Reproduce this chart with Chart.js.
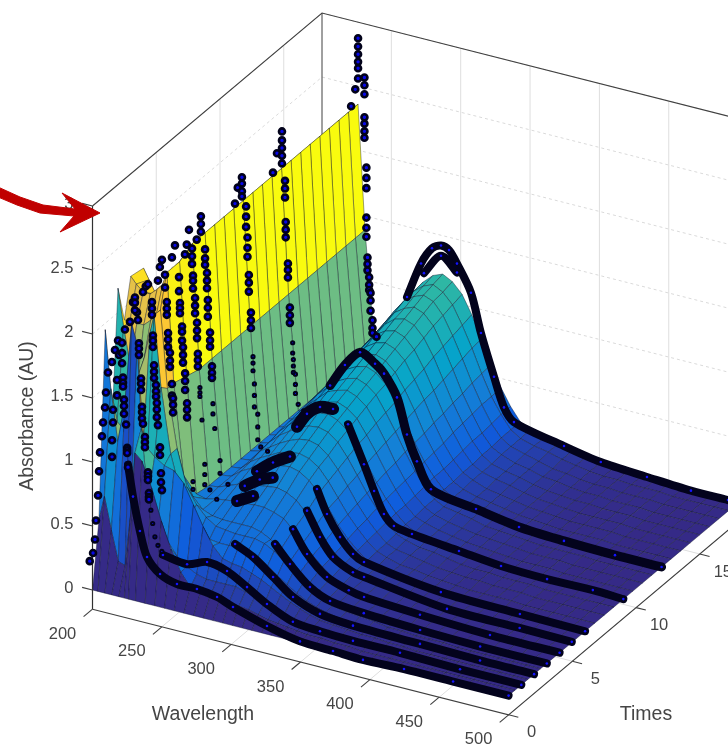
<!DOCTYPE html>
<html>
<head>
<meta charset="utf-8">
<title>Absorbance surface</title>
<script src="https://cdn.jsdelivr.net/npm/chart.js@4"></script>
<style>
  html, body { margin: 0; padding: 0; background: #fff; }
  #wrap { width: 728px; height: 748px; overflow: hidden; }
  canvas { display: block; filter: blur(0.45px); }
</style>
</head>
<body>
<div id="wrap"><canvas id="chart" width="728" height="748"></canvas></div>
<script>
// ===== AXIS TICKS =====
const wavelengthTicks = [200, 250, 300, 350, 400, 450, 500];
const timeTicks = [0, 5, 10, 15];
const absorbanceTicks = [0, 0.5, 1, 1.5, 2, 2.5, 3];
const absorbanceLabels = ["0", "0.5", "1", "1.5", "2", "2.5", "3"];

// ===== SURFACE GRID =====
const surfaceWavelengths = [200,204,209,214,219,223,226,231,238,245,252,259,266,273,280,287,294,301,308,315,322,329,336,343,350,360,370,380,390,400,410,420,430,440,450,460,470,480,490,500];
const surfaceTimes = [0,0.5,1,1.5,2,2.5,3,4,5,6,6.75,7.5,8.25,9,9.75,10.5,11.25,12,12.75,13.5,14.25,15,15.75,16.5,17.25,18];
const surfaceAbs = [
  [0,0,0,0,0,0,0,0,0,0,0,0,0,0,0,0,0,0,0,0,0,0,0,0,0,0,0,0,0,0,0,0,0,0,0,0,0,0,0,0],
  [.5,.7,.45,.22,.2,.62,1.1,1.05,.86,.62,.42,.26,.16,.13,.12,.12,.12,.11,.1,.08,.06,.05,.04,.03,.02,.02,.01,.01,0,0,0,0,0,0,0,0,0,0,0,0],
  [1.95,1.5,1.1,1.4,2.05,1.9,1.25,.7,.55,.42,.32,.26,.22,.2,.2,.2,.2,.18,.16,.13,.1,.08,.06,.05,.04,.03,.02,.02,.01,.01,0,0,0,0,0,0,0,0,0,0],
  [1.1,1.2,1.15,1.3,1.6,1.1,1.05,1,.95,.93,.85,.7,.55,.42,.34,.32,.31,.28,.25,.21,.17,.13,.1,.07,.05,.04,.03,.02,.02,.01,.01,0,0,0,0,0,0,0,0,0],
  [2.19,1.9,1.6,1.5,1.7,1.9,2.05,1.5,1,.72,.55,.45,.41,.4,.4,.41,.4,.37,.32,.26,.21,.16,.12,.09,.07,.05,.04,.03,.02,.01,.01,.01,0,0,0,0,0,0,0,0],
  [1.9,1.9,1.9,1.9,1.95,2,2.05,1.45,1,.72,.6,.52,.47,.46,.45,.45,.45,.43,.39,.33,.27,.2,.15,.11,.08,.06,.05,.04,.02,.02,.01,.01,.01,0,0,0,0,0,0,0],
  [2.2,2.15,2.1,2.1,2.15,2.2,2.3,1.45,.75,.6,.52,.49,.48,.48,.48,.48,.46,.42,.36,.29,.22,.16,.12,.08,.06,.05,.04,.03,.02,.01,.01,.01,0,0,0,0,0,0,0,0],
  [2.18,2.1,2,2.05,2.15,2.25,2.3,1.42,.52,.5,.52,.53,.54,.54,.55,.55,.53,.5,.43,.35,.27,.2,.14,.09,.07,.06,.04,.03,.02,.02,.01,.01,.01,0,0,0,0,0,0,0],
  [1.3,1.5,1.7,1.9,2.1,2.3,2.36,1.39,.5,.51,.54,.57,.59,.6,.61,.62,.6,.56,.48,.4,.3,.22,.16,.11,.08,.06,.05,.03,.02,.02,.01,.01,.01,0,0,0,0,0,0,0],
  [1.2,1.4,1.6,1.9,2.1,2.3,2.36,1.39,.5,.51,.57,.61,.64,.67,.69,.7,.68,.63,.55,.45,.34,.25,.18,.12,.09,.07,.06,.04,.03,.02,.01,.01,.01,0,0,0,0,0,0,0],
  [1.2,1.4,1.6,1.9,2.1,2.3,2.36,1.39,.5,.51,.58,.63,.67,.71,.73,.74,.72,.67,.58,.47,.36,.27,.19,.13,.1,.07,.06,.04,.03,.02,.01,.01,.01,.01,0,0,0,0,0,0],
  [1.2,1.4,1.6,1.9,2.1,2.3,2.36,1.39,.5,.51,.6,.65,.7,.74,.77,.78,.76,.7,.61,.5,.38,.28,.2,.13,.1,.08,.06,.04,.03,.02,.02,.01,.01,.01,0,0,0,0,0,0],
  [1.2,1.4,1.6,1.9,2.1,2.3,2.36,1.39,.5,.52,.61,.68,.73,.78,.81,.82,.8,.74,.64,.52,.4,.3,.21,.14,.11,.08,.07,.05,.03,.02,.02,.01,.01,.01,0,0,0,0,0,0],
  [1.2,1.4,1.6,1.9,2.1,2.3,2.36,1.39,.5,.52,.63,.7,.76,.81,.85,.86,.83,.77,.67,.55,.42,.31,.22,.15,.11,.09,.07,.05,.03,.02,.02,.01,.01,.01,0,0,0,0,0,0],
  [1.2,1.4,1.6,1.9,2.1,2.3,2.36,1.39,.5,.52,.64,.71,.78,.84,.87,.89,.86,.8,.69,.57,.44,.32,.22,.15,.12,.09,.07,.05,.04,.03,.02,.01,.01,.01,0,0,0,0,0,0],
  [1.2,1.4,1.6,1.9,2.1,2.3,2.36,1.39,.5,.52,.65,.73,.8,.87,.9,.92,.89,.83,.72,.59,.45,.33,.23,.16,.12,.09,.07,.05,.04,.03,.02,.01,.01,.01,0,0,0,0,0,0],
  [1.2,1.4,1.6,1.9,2.1,2.3,2.36,1.39,.5,.52,.66,.75,.82,.89,.93,.95,.92,.86,.74,.61,.47,.34,.24,.16,.12,.1,.08,.05,.04,.03,.02,.01,.01,.01,.01,0,0,0,0,0],
  [1.2,1.4,1.6,1.9,2.1,2.3,2.36,1.39,.5,.52,.67,.76,.85,.92,.96,.98,.95,.88,.76,.63,.48,.35,.25,.17,.13,.1,.08,.05,.04,.03,.02,.01,.01,.01,.01,0,0,0,0,0],
  [1.2,1.4,1.6,1.9,2.1,2.3,2.36,1.39,.5,.53,.68,.78,.87,.95,.99,1.01,.98,.91,.79,.65,.49,.36,.25,.17,.13,.1,.08,.06,.04,.03,.02,.01,.01,.01,.01,0,0,0,0,0],
  [1.2,1.4,1.6,1.9,2.1,2.3,2.36,1.39,.5,.53,.69,.8,.89,.97,1.02,1.04,1.01,.94,.81,.67,.51,.37,.26,.18,.14,.1,.08,.06,.04,.03,.02,.01,.01,.01,.01,0,0,0,0,0],
  [1.2,1.4,1.6,1.9,2.1,2.3,2.36,1.39,.5,.53,.7,.82,.91,1,1.05,1.07,1.04,.96,.83,.68,.52,.39,.27,.18,.14,.11,.09,.06,.04,.03,.02,.01,.01,.01,.01,0,0,0,0,0],
  [1.2,1.4,1.6,1.9,2.1,2.3,2.36,1.39,.5,.53,.71,.83,.93,1.02,1.08,1.1,1.07,.99,.86,.7,.54,.4,.28,.19,.14,.11,.09,.06,.04,.03,.02,.02,.01,.01,.01,0,0,0,0,0],
  [1.2,1.4,1.6,1.9,2.1,2.3,2.36,1.39,.5,.53,.72,.85,.95,1.05,1.1,1.13,1.1,1.02,.88,.72,.55,.41,.28,.19,.15,.11,.09,.06,.05,.03,.02,.02,.01,.01,.01,0,0,0,0,0],
  [1.2,1.4,1.6,1.9,2.1,2.3,2.36,1.39,.5,.53,.73,.87,.98,1.08,1.13,1.16,1.13,1.04,.9,.74,.57,.42,.29,.2,.15,.12,.09,.06,.05,.03,.02,.02,.01,.01,.01,0,0,0,0,0],
  [1.2,1.4,1.6,1.9,2.1,2.3,2.36,1.39,.5,.53,.74,.88,.99,1.09,1.15,1.18,1.14,1.06,.92,.76,.58,.42,.3,.2,.15,.12,.1,.07,.05,.03,.02,.02,.01,.01,.01,0,0,0,0,0],
  [1.2,1.4,1.6,1.9,2.1,2.3,2.36,1.39,.5,.53,.75,.89,1,1.1,1.17,1.2,1.16,1.08,.94,.77,.59,.43,.3,.2,.16,.12,.1,.07,.05,.03,.02,.02,.01,.01,.01,0,0,0,0,0]
];

// ===== MEASURED SPECTRA: [wavelength, absorbance] =====
// steep part near 225 nm, only the dots that show in front of the surface
const dotsT0 = [[198,.22],[200.4,.29],[201.8,.4],[202.5,.55],[204,.75],[204.7,.94],[205.4,1.09],[206.8,1.22],[207.6,1.33],[209,1.45],[209.7,1.57],[211.2,1.73],[214,1.82],[216.2,1.92],[218.4,2],[221.3,1.99],[221.3,1.91],[221.3,1.83],[222,1.72],[222,1.68],[222,1.65],[222.7,1.55],[222.7,1.5],[222.7,1.44],[224.2,1.36],[225,1.18],[225,1.16],[225,1.14],[225.6,1.03]];
const dotsT1 = [[204.9,.97],[204.9,1.1],[205.6,1.24],[205.6,1.34],[208.5,1.46],[208.5,1.58],[210,1.78],[214.2,1.99],[217.8,2.06],[220,2.22],[221.4,2.26],[221.4,2.22],[221.4,2.16],[223.6,2.09],[224.3,1.91],[224.3,1.87],[224.3,1.82],[225.8,1.64],[225.8,1.6],[225.8,1.55],[226.5,1.42],[226.5,1.38],[226.5,1.33],[227.2,1.29],[228.6,1.19],[228.6,1.15],[228.6,1.11],[230.8,.92],[230.8,.89],[230.8,.86],[231.5,.76],[231.5,.73],[231.5,.71]];
const dotsT2 = [[213.7,2.04],[218,2.21],[220,2.26],[221.6,2.28],[224.5,2.15],[224.5,2.1],[224.5,2.05],[225.2,1.89],[225.2,1.85],[225.2,1.8],[226,1.66],[226,1.61],[226,1.56],[227.4,1.51],[227.4,1.46],[227.4,1.42],[228,1.37],[228,1.32],[228,1.26],[228.8,1.2],[230.3,1.03],[230.3,.97],[231,.83],[231,.76],[231.7,.7]];
const dotsT3 = [[219.6,2.22],[221,2.33],[222.5,2.39],[224.7,2.28],[224.7,2.18],[226,2.07],[226,2.02],[226,1.97],[226.9,1.83],[226.9,1.78],[226.9,1.72],[228.3,1.68],[228.3,1.62],[228.3,1.57],[229.7,1.44],[229.7,1.35],[230.5,1.33],[230.5,1.28],[230.5,1.22]];
const dotsT4 = [[220.5,2.32],[222.7,2.42],[225.6,2.18],[225.6,2.07],[226.3,1.98],[226.3,1.94],[226.3,1.9],[227.8,1.8],[227.8,1.76],[227.8,1.69],[228.5,1.64],[228.5,1.58],[228.5,1.52],[230,1.44],[230,1.38],[230,1.31],[231.4,1.21],[231.4,1.16],[231.4,1.1]];
const dotsT5 = [[220.7,2.26],[222,2.34],[223.6,2.46],[225.8,2.32],[225.8,2.26],[225.8,2.2],[226.5,2.11],[226.5,2.07],[226.5,2.01],[228,1.94],[228,1.88],[228,1.82],[229.4,1.75],[229.4,1.69],[229.4,1.63],[230,1.51],[230,1.46],[230,1.41]];
const dotsT6 = [[220,2.29],[223,2.48],[223,2.42],[223,2.36],[226,2.23],[226,2.16],[226,2.11],[227.4,2.05],[227.4,1.99],[227.4,1.93],[228,1.84],[228,1.78],[228,1.71],[229.6,1.59],[229.6,1.53],[229.6,1.48],[231,1.33],[231,1.28],[231,1.24]];
const dotsT9 = [[220,2.32],[222,2.45],[225,2.54],[225,2.49],[225,2.43],[225,2.39],[228,2.32],[228,2.24],[228,2.16],[229,2.08],[229,2],[229,1.93],[230,1.79],[230,1.73],[230,1.66],[231.5,1.5],[231.5,1.44],[231.5,1.38]];
const dotsT12 = [[219.8,2.31],[222.7,2.47],[226.3,2.65],[226.3,2.58],[226.3,2.52],[226.3,2.46],[226.3,2.4],[228.5,2.27],[228.5,2.21],[228.5,2.14],[229,1.95],[229,1.89],[229,1.83],[230.6,1.63],[230.6,1.58],[230.6,1.52],[232,1.29],[232,1.23],[232,1.17]];
const dotsT18 = [[221,2.33],[224,2.47],[226,2.56],[226,2.64],[226,2.69],[226,2.75],[226,2.81],[226,2.875],[230.6,2.58],[230.6,2.52],[230.6,2.45],[230.6,2.27],[230.6,2.22],[230.6,2.16],[230.6,2.11],[232,1.88],[232,1.8],[232,1.72],[232,1.49],[232,1.41],[232,1.34],[232.8,1.18],[232.8,1.13],[232.8,1.08],[234,1.03],[234,.97],[234,.93],[235,.91],[235,.85],[235,.77],[236.4,.7],[236.4,.64],[236.4,.6],[239.3,.58]];

// lower end of the steep part, half sunk in the surface so they look thin
const thinT1 = [[232.9,.63],[234.2,.53],[235.8,.43],[238,.37],[240.8,.33]];
const thinT4 = [[235.7,.61],[235.7,.55]];
const thinT5 = [[231.5,1.25],[231.5,1.21],[231.5,1.18],[233,1],[235,.66],[235,.58],[235,.5],[238.7,.47],[243.6,.41]];
const thinT6 = [[231.7,1.04],[231.7,.96],[233,.85],[236.8,.61],[236.8,.51],[242.5,.44]];
const thinT9 = [[233,1.16],[233,1.11],[233,1.05],[234,.95],[234,.86],[234,.77],[236.4,.72],[236.4,.62],[236.4,.52],[238.6,.47],[243.5,.45]];
const thinT12 = [[234,1.02],[234,.94],[234.5,.89],[234.5,.84],[234.5,.79],[236,.78],[236,.7],[236,.63],[238,.55],[242,.51]];

// gentle part of each spectrum, dots so dense they read as a black ribbon
const lineT0 = [[225.6,1.05],[229.2,.81],[234.2,.555],[239.3,.366],[248.7,.259],[260.9,.214],[275.3,.215],[289.8,.192],[301.3,.146],[325.8,.065],[349.6,.01],[373.4,0],[395,-.01],[424.6,0],[460,0],[500,0]];
const lineT1 = [[241.6,.305],[259,.28],[273.4,.337],[287.8,.306],[302.2,.22],[316.6,.127],[335.3,.04],[354.8,.02],[378.6,.01],[412.5,.01],[455.8,0],[500,0]];
const lineT2 = [[284.4,.424],[297.3,.359],[311.8,.242],[326.2,.125],[345.6,.046],[369.4,.02],[417.7,.01],[461,0],[500,0]];
const lineT3 = [[304,.394],[314.8,.267],[329.2,.127],[343.7,.058],[368,.03],[408.6,.01],[451.9,0],[500,0]];
const lineT4 = [[307.8,.437],[317.9,.27],[332.3,.13],[348,.07],[359,.047],[399.3,.02],[449.8,0],[500,0]];
const lineT5 = [[308.7,.5],[318,.32],[327.4,.19],[341.8,.11],[349.8,.095],[409.6,.01],[462,.005],[499.6,0]];
const lineT6 = [[306.7,.58],[313.9,.405],[323.3,.25],[332.7,.144],[340.6,.103],[396,.02],[453,.006],[500,0]];
const lineT9 = [[301.5,.82],[313,.54],[320.3,.35],[327.4,.19],[334.6,.116],[347.6,.09],[381.5,.05],[411.8,.016],[445,.005],[478,.01],[500,0]];
const lineT12 = [[261,.76],[271.7,.95],[282.6,1.08],[293.4,1.02],[299.9,.96],[309.2,.8],[316.4,.53],[323.6,.34],[333.7,.15],[366.2,.085],[397.2,.03],[429.6,.01],[466.4,0],[500,0]];
const lineT18 = [[261.3,.95],[271.4,1.24],[279.3,1.38],[285.8,1.42],[291.6,1.4],[297.3,1.31],[307.4,1.11],[314.6,.815],[324,.5],[331.2,.28],[338.4,.185],[374.5,.097],[401,.045],[434.3,.02],[466,0],[492.7,0]];
const lineT18Inner = [[273.5,1.17],[285.8,1.34],[297.3,1.24]];

// crests that poke out of the surface ridge
const crestT4 = [[267.4,.545],[279,.617]];
const crestT5 = [[263.8,.57],[274.6,.65],[284,.69]];
const crestT6 = [[263.4,.6],[275,.7],[287.2,.78]];
const crestT9 = [[264.7,.7],[271.9,.82],[281.3,.9],[290.7,.91]];

// annotation arrow outline, canvas units
const arrowX = [-2,20,43,75,62,100,60,74,40,17,-2];
const arrowY = [187,197,205,209,193,213,232,216,213,205,197];

// ===== 3D VIEW =====
const zFloor = -0.15;
const zTop = 3;
const tMax = 18;
const colorMax = 2.36;
const project = (wl, t, z) => ({
  x: 92.5 + 1.387 * (wl - 200) + 12.75 * t,
  y: 590 + 0.352 * (wl - 200) - 10.72 * t - 128 * z,
});

// parula colormap stops
const parula = [[53,42,135],[15,92,221],[20,129,214],[6,164,202],[46,183,164],[135,191,119],[209,187,89],[254,200,50],[249,251,14]];
function faceColor(z) {
  const v = Math.max(0, Math.min(1, z / colorMax)) * (parula.length - 1);
  const i = Math.min(parula.length - 2, Math.floor(v));
  const f = v - i;
  const c = parula[i].map((a, k) => Math.round(a + (parula[i + 1][k] - a) * f));
  return `rgb(${c[0]},${c[1]},${c[2]})`;
}

// ===== DATASETS, pushed in paint order (far things first) =====
const paint = [];

function addLine(points, color, width, dash) {
  paint.push({
    data: points, borderColor: color, borderWidth: width, borderDash: dash || [],
    pointRadius: 0, fill: false, tension: 0,
  });
}

// back walls and floor
const gridGrey = "#dedede";
const dashGrey = "#dadada";
wavelengthTicks.slice(1).forEach((wl) => {
  addLine([project(wl, tMax, zFloor), project(wl, tMax, zTop)], gridGrey, 1);
  addLine([project(wl, 0, zFloor), project(wl, tMax, zFloor)], gridGrey, 1);
});
timeTicks.slice(1).forEach((t) => {
  addLine([project(200, t, zFloor), project(200, t, zTop)], gridGrey, 1);
  addLine([project(200, t, zFloor), project(500, t, zFloor)], gridGrey, 1);
});
absorbanceTicks.forEach((z) => {
  addLine([project(200, 0, z), project(200, tMax, z), project(500, tMax, z)], dashGrey, 1, [3, 3]);
});
addLine([project(200, tMax, zFloor), project(200, tMax, zTop)], "#404040", 1);
addLine([project(200, 0, zTop), project(200, tMax, zTop), project(500, tMax, zTop)], "#404040", 1.1);

// surface, far rows first then left to right
for (let i = surfaceTimes.length - 2; i >= 0; i--) {
  for (let j = 0; j < surfaceWavelengths.length - 1; j++) {
    const w0 = surfaceWavelengths[j], w1 = surfaceWavelengths[j + 1];
    const t0 = surfaceTimes[i], t1 = surfaceTimes[i + 1];
    const color = faceColor(surfaceAbs[i][j]);
    paint.push({
      data: [
        project(w0, t0, surfaceAbs[i][j]),
        project(w0, t1, surfaceAbs[i + 1][j]),
        project(w1, t1, surfaceAbs[i + 1][j + 1]),
        project(w1, t0, surfaceAbs[i][j + 1]),
        project(w0, t0, surfaceAbs[i][j]),
      ],
      backgroundColor: color,
      borderColor: "rgba(15,20,40,0.5)",
      borderWidth: 0.8,
      pointRadius: 0,
      fill: "shape",
      tension: 0,
    });
  }
}

// axis lines and ticks in front of the floor
addLine([project(200, 0, zFloor), project(200, 0, zTop)], "#303030", 1.2);
addLine([project(200, 0, zFloor), project(500, 0, zFloor), project(500, tMax, zFloor)], "#404040", 1.1);
absorbanceTicks.forEach((z) => addLine([project(200, 0, z), project(192.5, 0, z)], "#404040", 1.1));
wavelengthTicks.forEach((wl) => addLine([project(wl, 0, zFloor), project(wl, -0.7, zFloor)], "#404040", 1.1));
timeTicks.forEach((t) => addLine([project(500, t, zFloor), project(507, t, zFloor)], "#404040", 1.1));

// spectra markers
function addRibbon(t, pairs, width) {
  paint.push({
    data: pairs.map((p) => project(p[0], t, p[1])),
    borderColor: "#03031c", borderWidth: width || 8, borderCapStyle: "round", borderJoinStyle: "round",
    pointRadius: 1.3, pointBorderWidth: 0, pointBackgroundColor: "#1414ff",
    fill: false, tension: 0.3,
  });
}
function addDots(t, pairs, radius, border) {
  paint.push({
    data: pairs.map((p) => project(p[0], t, p[1])),
    showLine: false, pointRadius: radius, pointBorderWidth: border,
    pointBorderColor: "#02021a", pointBackgroundColor: "#0808e8",
  });
}
addRibbon(18, lineT18); addRibbon(18, lineT18Inner); addDots(18, dotsT18, 3, 2.6);
addRibbon(12, lineT12, 9); addDots(12, thinT12, 1.6, 2); addDots(12, dotsT12, 3, 2.6);
addRibbon(9, crestT9, 12); addRibbon(9, lineT9); addDots(9, thinT9, 1.6, 2); addDots(9, dotsT9, 3, 2.6);
addRibbon(6, crestT6, 12); addRibbon(6, lineT6); addDots(6, thinT6, 1.6, 2); addDots(6, dotsT6, 3, 2.6);
addRibbon(5, crestT5, 12); addRibbon(5, lineT5); addDots(5, thinT5, 1.6, 2); addDots(5, dotsT5, 3, 2.6);
addRibbon(4, crestT4, 12); addRibbon(4, lineT4); addDots(4, thinT4, 1.6, 2); addDots(4, dotsT4, 3, 2.6);
addRibbon(3, lineT3); addDots(3, dotsT3, 3, 2.6);
addRibbon(2, lineT2); addDots(2, dotsT2, 3, 2.6);
addRibbon(1, lineT1); addDots(1, thinT1, 1.6, 2); addDots(1, dotsT1, 3, 2.6);
addRibbon(0, lineT0); addDots(0, dotsT0, 3, 2.6);

// red arrow on top
paint.push({
  data: arrowX.map((x, i) => ({ x, y: arrowY[i] })),
  backgroundColor: "#c00000", borderColor: "#c00000", borderWidth: 1,
  pointRadius: 0, fill: "shape", tension: 0,
});

// ===== AXIS TEXT =====
const axisText = {
  id: "axisText",
  beforeDatasetsDraw(chart) {
    const { ctx, scales } = chart;
    const put = (text, p, dx, dy, align) => {
      ctx.textAlign = align || "center";
      ctx.fillText(text, scales.x.getPixelForValue(p.x) + dx, scales.y.getPixelForValue(p.y) + dy);
    };
    ctx.save();
    ctx.fillStyle = "#454545";
    ctx.textBaseline = "middle";
    ctx.font = '16.5px "Liberation Sans"';
    absorbanceTicks.forEach((z, i) => put(absorbanceLabels[i], project(200, 0, z), -19, -2, "right"));
    wavelengthTicks.forEach((wl) => put(String(wl), project(wl, 0, zFloor), -30, 25));
    timeTicks.forEach((t) => put(String(t), project(500, t, zFloor), 23, 18));
    ctx.font = '19.5px "Liberation Sans"';
    put("Wavelength", { x: 203, y: 715 }, 0, 0);
    put("Times", { x: 646, y: 715 }, 0, 0);
    ctx.translate(scales.x.getPixelForValue(28), scales.y.getPixelForValue(416));
    ctx.rotate(-Math.PI / 2);
    ctx.textAlign = "center";
    ctx.fillText("Absorbance (AU)", 0, 0);
    ctx.restore();
  },
};

// ===== CHART =====
new Chart(document.getElementById("chart").getContext("2d"), {
  type: "line",
  data: { datasets: paint.reverse() }, // Chart.js paints the last dataset first
  options: {
    responsive: false,
    animation: false,
    events: [],
    layout: { padding: 0, autoPadding: false },
    scales: {
      x: { type: "linear", min: 0, max: 728, display: false },
      y: { type: "linear", min: 0, max: 748, reverse: true, display: false },
    },
    plugins: { legend: { display: false }, tooltip: { enabled: false } },
  },
  plugins: [axisText],
});
</script>
</body>
</html>
